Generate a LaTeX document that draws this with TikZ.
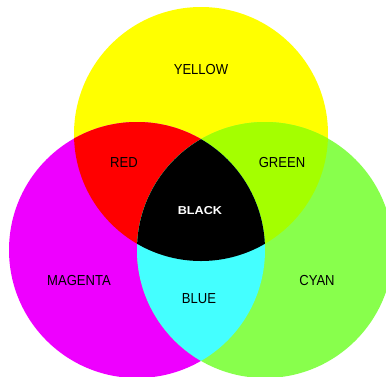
\documentclass[tikz,border=0pt]{standalone}
\usepackage{fontspec}
\setmainfont{Liberation Sans}
\definecolor{cyel}{RGB}{255,255,0}
\definecolor{cmag}{RGB}{238,0,255}
\definecolor{ccya}{RGB}{136,255,76}
\definecolor{cred}{RGB}{255,0,0}
\definecolor{cgrn}{RGB}{164,255,0}
\definecolor{cblu}{RGB}{68,255,255}
\begin{document}
\begin{tikzpicture}[x=1pt,y=-1pt,
  lbl/.style={font=\fontsize{14.5}{15}\selectfont, text=black, xscale=0.9, inner sep=0pt},
  blk/.style={font=\fontsize{11.5}{12}\selectfont\bfseries, text=white, xscale=1.1, inner sep=0pt}]
\useasboundingbox (0,0) rectangle (386,376);
\def\cyel{(201,134) circle[radius=127]}
\def\cmag{(137,250) circle[radius=128]}
\def\ccya{(265,250) circle[radius=128]}
\clip (0,0) rectangle (386,376);
\fill[cyel] \cyel;
\fill[cmag] \cmag;
\fill[ccya] \ccya;
\begin{scope}\clip \cyel; \fill[cred] \cmag; \fill[cgrn] \ccya; \end{scope}
\begin{scope}\clip \cmag; \fill[cblu] \ccya; \end{scope}
\begin{scope}\clip \cyel; \clip \cmag; \fill[black] \ccya; \end{scope}
\node[lbl] (yellow) at (201,70) {YELLOW};
\node[lbl] (red) at (124,163) {RED};
\node[lbl] (green) at (282,163) {GREEN};
\node[blk] (black) at (200,211) {BLACK};
\node[lbl] (magenta) at (79,281) {MAGENTA};
\node[lbl] (blue) at (199,299) {BLUE};
\node[lbl] (cyan) at (317,281) {CYAN};
\end{tikzpicture}
\end{document}
